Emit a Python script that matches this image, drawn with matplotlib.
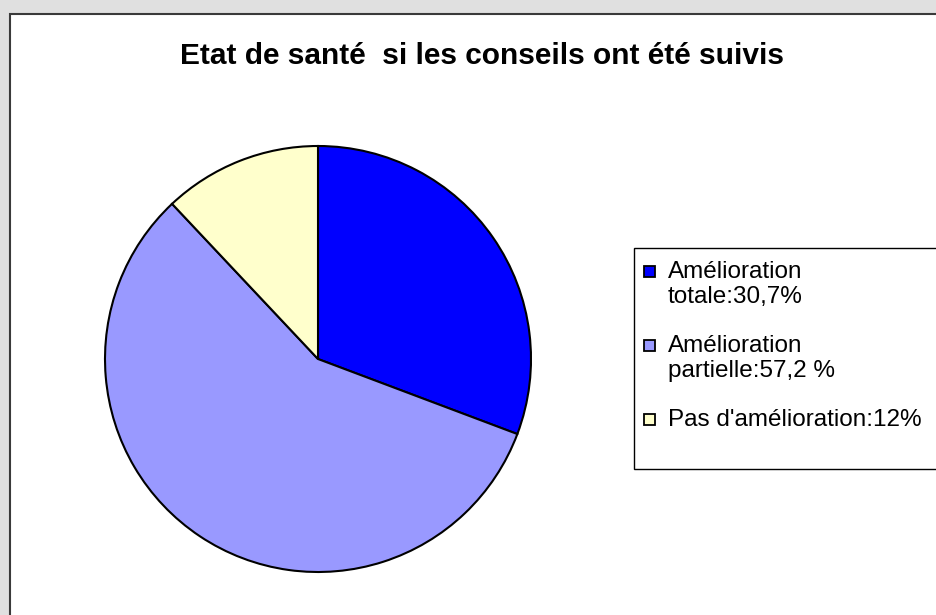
# ----------------------------------------------------------------
# Imports
# ----------------------------------------------------------------
import matplotlib
matplotlib.use("Agg")
import matplotlib.pyplot as plt
from matplotlib.patches import Rectangle

# ----------------------------------------------------------------
# Data
# ----------------------------------------------------------------
title = "Etat de santé  si les conseils ont été suivis"
categories = ["Amélioration\ntotale:30,7%",
              "Amélioration\npartielle:57,2 %",
              "Pas d'amélioration:12%"]
values = [30.7, 57.2, 12.0]
colors = ["#0000FF", "#9999FF", "#FFFFCC"]

# ----------------------------------------------------------------
# Layout (pixels)
# ----------------------------------------------------------------
W, H = 936, 615
CX, CY, R = 318, 359, 213          # pie centre and radius
LEG_LEFT, LEG_TOP, LEG_BOTTOM = 634, 248, 469
LINE_H, ENTRY_GAP = 25, 24

plt.rcParams["font.family"] = ["Liberation Sans", "DejaVu Sans"]

fig = plt.figure(figsize=(W / 100, H / 100), dpi=100, facecolor="#e0e0e0")

# --- white chart area with dark border ---
fig.patches.append(Rectangle((10 / W, -0.05), 1.2, (H - 14) / H + 0.05,
                             transform=fig.transFigure, facecolor="white",
                             edgecolor="#3a3a3a", linewidth=1.5, zorder=-5))

# --- title ---
fig.text(482 / W, 1 - 64 / H, title, ha="center", va="baseline",
         fontsize=21.5, fontweight="bold")

# ----------------------------------------------------------------
# Pie
# ----------------------------------------------------------------
ax = fig.add_axes([(CX - R) / W, (H - CY - R) / H, 2 * R / W, 2 * R / H])
ax.set_zorder(2)
ax.patch.set_alpha(0)
wedges, _ = ax.pie(values, colors=colors, startangle=90, counterclock=False,
                   wedgeprops=dict(edgecolor="black", linewidth=1.5, clip_on=False))
ax.set_xlim(-1, 1)
ax.set_ylim(-1, 1)
ax.set_aspect("equal")
ax.axis("off")

# ----------------------------------------------------------------
# Legend (drawn by hand to keep the square on the first line)
# ----------------------------------------------------------------
fig.patches.append(Rectangle((LEG_LEFT / W, 1 - LEG_BOTTOM / H), 0.5,
                             (LEG_BOTTOM - LEG_TOP) / H,
                             transform=fig.transFigure, facecolor="white",
                             edgecolor="black", linewidth=1.0, zorder=1))

y = 278
for label, color in zip(categories, colors):
    fig.patches.append(Rectangle((644 / W, 1 - (y - 1) / H), 11 / W, 11 / H,
                                 transform=fig.transFigure, facecolor=color,
                                 edgecolor="black", linewidth=1.3, zorder=2))
    for k, line in enumerate(label.split("\n")):
        fig.text(668 / W, 1 - (y + k * LINE_H) / H, line, ha="left",
                 va="baseline", fontsize=17.5, zorder=3)
    y += LINE_H * len(label.split("\n")) + ENTRY_GAP

fig.savefig("out.png", dpi=100, facecolor=fig.get_facecolor())
plt.close(fig)
